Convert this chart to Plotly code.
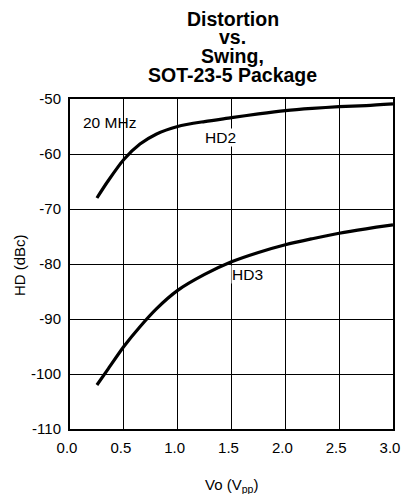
import plotly.graph_objects as go

vo = [0.25, 0.35, 0.5, 0.65, 0.8, 1.0, 1.25, 1.5, 1.75, 2.0, 2.25, 2.5, 2.75, 3.0]
hd2 = [-68.0, -65.0, -61.0, -58.2, -56.4, -55.0, -54.1, -53.4, -52.7, -52.1, -51.7, -51.4, -51.2, -50.9]
hd3 = [-102.0, -99.2, -95.0, -91.4, -88.2, -84.8, -81.9, -79.6, -77.9, -76.5, -75.4, -74.4, -73.6, -72.9]

x_ticks = [0.0, 0.5, 1.0, 1.5, 2.0, 2.5, 3.0]
y_ticks = [-110, -100, -90, -80, -70, -60, -50]
title_lines = ["Distortion", "vs.", "Swing,", "SOT-23-5 Package"]

FONT = "Liberation Sans, Arial, sans-serif"
W, H = 409, 494
L, R, T, B = 70, 9, 99, 65
PW, PH = W - L - R, H - T - B

def px(xp):
    return (xp - L) / PW

def py(yp):
    return (H - B - yp) / PH

fig = go.Figure()
for ys, name in [(hd2, "HD2"), (hd3, "HD3")]:
    fig.add_trace(go.Scatter(x=vo, y=ys, mode="lines", name=name,
                             line=dict(color="black", width=3.2, shape="spline", smoothing=0.8),
                             showlegend=False, hoverinfo="skip"))

axis_common = dict(showgrid=True, gridcolor="black", gridwidth=1.3,
                   showline=True, linecolor="black", linewidth=2, mirror=True,
                   zeroline=False, ticks="", tickfont=dict(family=FONT, size=15, color="black"))

fig.update_xaxes(range=[0, 3], tickvals=x_ticks, ticktext=[f"{v:.1f}" for v in x_ticks],
                 ticklabelshift=-3, ticklabelstandoff=4, **axis_common)
fig.update_yaxes(range=[-110, -50], tickvals=y_ticks, ticktext=[str(v) for v in y_ticks],
                 ticklabelstandoff=4, **axis_common)

ann = []
centers = [18.8, 37.4, 56.4, 75.1]
for t, c in zip(title_lines, centers):
    ann.append(dict(text=f"<b>{t}</b>", xref="paper", yref="paper", x=px(236.5), y=py(c),
                    xanchor="center", yanchor="middle", showarrow=False,
                    font=dict(family=FONT, size=19.5, color="black")))

ann.append(dict(text="HD (dBc)", xref="paper", yref="paper", x=px(18.5), y=py(265.5),
                xanchor="center", yanchor="middle", textangle=-90, showarrow=False,
                font=dict(family=FONT, size=15, color="black")))
ann.append(dict(text="Vo (V<sub>pp</sub>)", xref="paper", yref="paper", x=px(235), y=py(485),
                xanchor="center", yanchor="middle", showarrow=False,
                font=dict(family=FONT, size=15, color="black")))

ann.append(dict(text="20 MHz", xref="paper", yref="paper", x=px(110), y=py(122),
                xanchor="center", yanchor="middle", showarrow=False,
                font=dict(family=FONT, size=15.5, color="black")))
ann.append(dict(text="HD2", xref="paper", yref="paper", x=px(224), y=py(137),
                xanchor="center", yanchor="middle", showarrow=False, bgcolor="white", borderpad=0,
                font=dict(family=FONT, size=15.5, color="black")))
ann.append(dict(text="HD3", xref="paper", yref="paper", x=px(251.7), y=py(274.5),
                xanchor="center", yanchor="middle", showarrow=False, bgcolor="white", borderpad=0,
                font=dict(family=FONT, size=15.5, color="black")))

fig.update_layout(width=W, height=H, margin=dict(l=L, r=R, t=T, b=B),
                  paper_bgcolor="white", plot_bgcolor="white",
                  annotations=ann, showlegend=False)

fig.write_html("out.html")
